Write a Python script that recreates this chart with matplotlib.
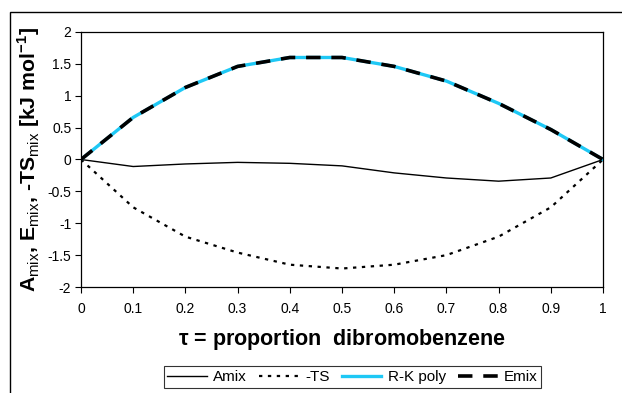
import numpy as np
import matplotlib.pyplot as plt
from matplotlib.patches import Rectangle

plt.rcParams['font.family'] = ['Liberation Sans', 'DejaVu Sans']
plt.rcParams['mathtext.fontset'] = 'custom'
plt.rcParams['mathtext.rm'] = 'Liberation Sans'
plt.rcParams['mathtext.bf'] = 'Liberation Sans:bold'

# ---------------- data ----------------
tau = [0, 0.1, 0.2, 0.3, 0.4, 0.5, 0.6, 0.7, 0.8, 0.9, 1.0]
amix = [0, -0.11, -0.07, -0.045, -0.06, -0.10, -0.21, -0.29, -0.34, -0.29, 0]
ts = [0, -0.75, -1.21, -1.46, -1.65, -1.71, -1.65, -1.50, -1.21, -0.75, 0]
rk_poly = [0, 0.66, 1.13, 1.46, 1.60, 1.60, 1.46, 1.23, 0.88, 0.47, 0]
emix = [0, 0.66, 1.13, 1.46, 1.60, 1.60, 1.46, 1.23, 0.88, 0.47, 0]

fig = plt.figure(figsize=(6.22, 3.93), dpi=100)
ax = fig.add_axes([0.1302, 0.2697, 0.8393, 0.6489])

# outer chart border (cut off at right/bottom)
fig.patches.append(Rectangle((10/622, -0.1), 1.2, (393-12)/393 + 0.1,
                             transform=fig.transFigure, fill=False,
                             edgecolor='black', linewidth=1.0))

ax.plot(tau, amix, color='black', linewidth=1.0, label='Amix')
ax.plot(tau, ts, color='black', linewidth=1.6, linestyle=(0, (1.5, 2.5)), label='-TS')
ax.plot(tau, rk_poly, color='#1EC8F5', linewidth=2.4, label='R-K poly')
ax.plot(tau, emix, color='black', linewidth=2.6, linestyle=(0, (4, 3)), label='Emix')

ax.set_xlim(0, 1)
ax.set_ylim(-2, 2)
ax.set_xticks(np.arange(0, 1.01, 0.1))
ax.set_xticklabels(['0', '0.1', '0.2', '0.3', '0.4', '0.5', '0.6', '0.7', '0.8', '0.9', '1'])
ax.set_yticks(np.arange(-2, 2.01, 0.5))
ax.set_yticklabels(['-2', '-1.5', '-1', '-0.5', '0', '0.5', '1', '1.5', '2'])
ax.tick_params(labelsize=10, direction='out', length=4, width=0.8)
ax.tick_params(axis='x', pad=7)
ax.tick_params(axis='y', pad=3)
for s in ax.spines.values():
    s.set_linewidth(0.9)

ax.set_xlabel(r'$\mathbf{\tau}$ = proportion  dibromobenzene', fontsize=15.5,
              fontweight='bold', labelpad=8)
ax.set_ylabel(r'A$_{\mathrm{mix}}$, E$_{\mathrm{mix}}$, -TS$_{\mathrm{mix}}$ [kJ mol$^{\mathbf{-1}}$]',
              fontsize=15.3, fontweight='bold', labelpad=4)

leg = ax.legend(loc='upper center', bbox_to_anchor=(0.52, -0.31), ncol=4,
                fontsize=11, frameon=True, fancybox=False, borderpad=0.25,
                handlelength=2.6, columnspacing=0.8, handletextpad=0.4,
                borderaxespad=0)
leg.get_frame().set_edgecolor('black')
leg.get_frame().set_linewidth(0.8)

fig.savefig('out.png', dpi=100)
